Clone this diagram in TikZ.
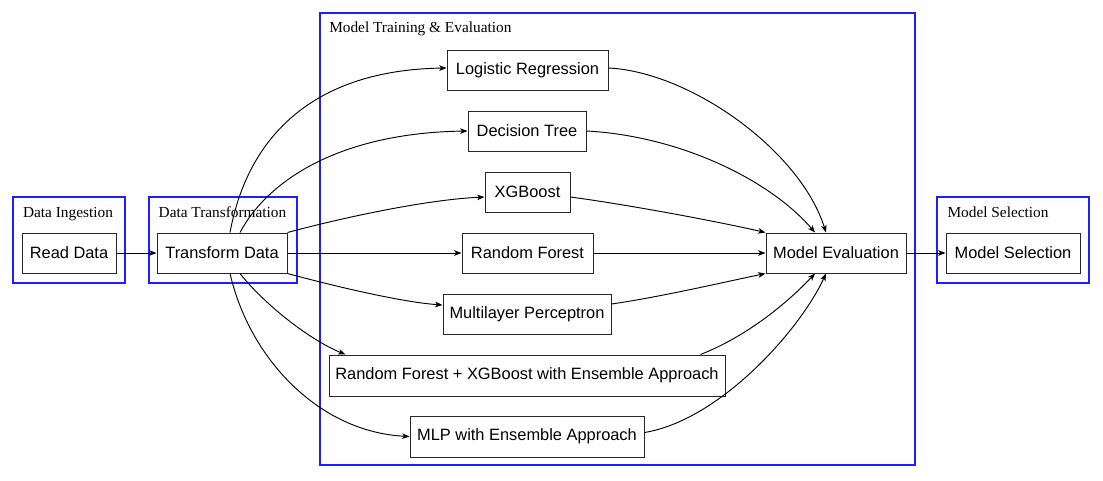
\documentclass[tikz,border=0pt]{standalone}
\usepackage{fontspec}
\setmainfont{Liberation Serif}
\newfontfamily\boxfont{Liberation Sans}
\usetikzlibrary{arrows.meta,calc}
\definecolor{clblue}{RGB}{30,30,255}
\begin{document}
\begin{tikzpicture}[x=0.75pt,y=-0.75pt,
  box/.style={draw=black!85,line width=0.75pt,inner sep=0pt,minimum height=30pt,
    font=\boxfont\fontsize{12.3}{14}\selectfont},
  cluster/.style={draw=clblue,line width=0.8pt},
  clabel/.style={font=\fontsize{11.5}{13}\selectfont,inner sep=0pt},
  edge/.style={draw=black,line width=0.7pt,-{Stealth[length=5.5pt,width=4.2pt,inset=1.4pt]}}]
\fill[white] (0,0) rectangle (1103,480);
\useasboundingbox (0,0) rectangle (1103,480);
% clusters
\draw[cluster] (13,197) rectangle (125,283);
\draw[cluster] (149,197) rectangle (297,283);
\draw[cluster] (320,13) rectangle (915,465);
\draw[cluster] (937,197) rectangle (1089,283);
\node[clabel,anchor=base] (l1) at (68,217) {Data Ingestion};
\node[clabel,anchor=base] (l2) at (222.5,217) {Data Transformation};
\node[clabel,anchor=base west] (l3) at (329,32) {Model Training \& Evaluation};
\node[clabel,anchor=base] (l4) at (998,217) {Model Selection};
% nodes
\node[box,minimum width=70.5pt] (rd) at (69,253) {Read Data};
\node[box,minimum width=97.5pt] (td) at (222,253) {Transform Data};
\node[box,minimum width=120.75pt] (lr) at (527.5,70) {Logistic Regression};
\node[box,minimum width=88.5pt] (dt) at (527,131) {Decision Tree};
\node[box,minimum width=63.75pt] (xgb) at (527.5,192) {XGBoost};
\node[box,minimum width=98.25pt] (rf) at (527.5,253) {Random Forest};
\node[box,minimum width=126pt] (mlp) at (527,314) {Multilayer Perceptron};
\node[box,minimum width=297pt,minimum height=30.75pt] (rfx) at (527,375.5) {Random Forest + XGBoost with Ensemble Approach};
\node[box,minimum width=175.5pt,minimum height=30.75pt] (mlpe) at (527,436.5) {MLP with Ensemble Approach};
\node[box,minimum width=105pt] (me) at (836,253) {Model Evaluation};
\node[box,minimum width=100.5pt] (ms) at (1013,253) {Model Selection};
% edges
\draw[edge] (rd) -- (td);
\draw[edge] ($(td.north)+(8,0)$) .. controls (248,135) and (315,70) .. ($(lr.west)+(0,-2)$);
\draw[edge] ($(td.north)+(18,0)$) .. controls (268,180) and (340,133) .. (dt.west);
\draw[edge] (td.north east) .. controls (330,221) and (420,200) .. ($(xgb.west)+(0,5)$);
\draw[edge] (td.east) -- (rf.west);
\draw[edge] (td.south east) .. controls (330,285) and (400,302) .. ($(mlp.west)+(0,-9)$);
\draw[edge] ($(td.south)+(18,0)$) .. controls (265,305) and (310,340) .. ($(rfx.north west)+(17,0)$);
\draw[edge] ($(td.south)+(8,0)$) .. controls (250,360) and (320,432) .. (mlpe.west);
\draw[edge] ($(lr.east)+(0,-2)$) .. controls (690,72) and (800,150) .. ($(me.north)+(-10,0)$);
\draw[edge] (dt.east) .. controls (680,136) and (770,180) .. ($(me.north)+(-21,0)$);
\draw[edge] ($(xgb.east)+(0,5)$) .. controls (630,205) and (720,222) .. (me.north west);
\draw[edge] (rf.east) -- (me.west);
\draw[edge] ($(mlp.east)+(0,-10)$) .. controls (660,297) and (720,283) .. (me.south west);
\draw[edge] ($(rfx.north east)+(-25,0)$) .. controls (750,335) and (790,300) .. ($(me.south)+(-21,0)$);
\draw[edge] ($(mlpe.east)+(0,-4)$) .. controls (720,420) and (800,330) .. ($(me.south)+(-10,0)$);
\draw[edge] (me) -- (ms);
\end{tikzpicture}
\end{document}
